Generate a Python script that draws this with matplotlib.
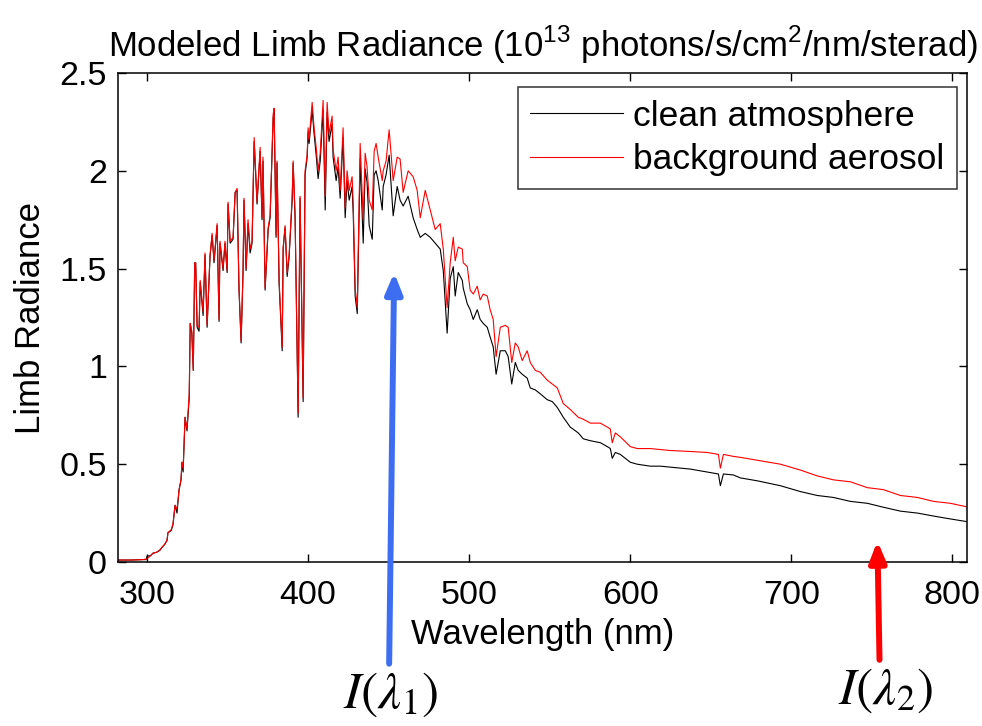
import numpy as np
import matplotlib
matplotlib.use('Agg')
import matplotlib.pyplot as plt
from matplotlib.ticker import FuncFormatter

plt.rcParams['font.family'] = ['Liberation Sans', 'DejaVu Sans']

# wavelength (nm) / radiance (1e13 photons/s/cm2/nm/sterad)
wavelength = [
    282, 290, 297, 299.5, 300, 302, 303.7, 306, 308, 309.3, 311, 312.4, 313, 315, 316.1,
    317.4, 318.6, 319.9, 321.1, 321.7, 322.4, 323.6, 324.8, 326.2, 326.8, 327.8, 328.7,
    329.6, 330.2, 331.1, 332.3, 333.0, 334.8, 336.0, 337.3, 339.1, 340.4, 341.6, 343.5,
    344.7, 345.3, 347.2, 348.4, 349.7, 350.3, 351.6, 353.4, 354.7, 355.9, 357.1, 358.4,
    359.6, 360.2, 361.5, 362.7, 364.0, 365.2, 366.5, 368.3, 370.2, 371.4, 372.0, 373.3,
    375.2, 376.4, 378.3, 378.9, 380.1, 380.7, 382.0, 383.9, 384.5, 385.7, 387.0, 388.2,
    390.1, 390.7, 391.9, 393.8, 395.0, 396.9, 398.1, 399.4, 400.0, 400.6, 402.5, 403.7,
    405.0, 406.2, 407.5, 409.3, 410.6, 411.8, 413.0, 414.9, 415.5, 417.4, 418.6, 419.9,
    421.7, 423.0, 424.2, 425.5, 427.3, 428.0, 429.2, 430.5, 432.3, 434.2, 435.4, 436.6,
    437.9, 439.8, 441.0, 442.2, 443.5, 446.0, 446.6, 448.4, 450.3, 452.8, 455.3, 457.1,
    459.0, 462.1, 465.2, 467.7, 469.6, 472.7, 475.8, 478.9, 482.0, 483.9, 486.3, 488.2,
    490.1, 491.3, 493.2, 495.7, 496.3, 498.8, 500.6, 502.5, 505.0, 506.8, 508.7, 511.2,
    513.0, 514.9, 516.7, 519.3, 522.4, 524.2, 526.4, 528.6, 530.4, 532.9, 536.0, 537.9,
    541.0, 544.1, 548.4, 551.6, 554.7, 558.4, 562.7, 567.7, 570.8, 575.2, 581.4, 585.7,
    587.6, 588.8, 590.7, 593.8, 600.0, 604.3, 612.4, 618.6, 624.8, 637.3, 647.8, 654.7,
    655.9, 657.8, 664.0, 668.3, 678.9, 693.2, 705.6, 716.1, 726.1, 736.6, 747.2, 757.1,
    767.7, 778.3, 788.2, 798.8, 810.0]

clean = [
    0.010, 0.010, 0.012, 0.012, 0.030, 0.032, 0.045, 0.050, 0.060, 0.075, 0.090, 0.110, 0.150, 0.160, 0.190,
    0.290, 0.250, 0.370, 0.420, 0.510, 0.460, 0.740, 0.670, 0.840, 1.220, 1.170, 0.980,
    1.530, 1.530, 1.200, 1.180, 1.430, 1.260, 1.570, 1.200, 1.560, 1.670, 1.530, 1.720,
    1.230, 1.630, 1.490, 1.630, 1.480, 1.830, 1.630, 1.650, 1.890, 1.900, 1.390, 1.120,
    1.480, 1.850, 1.490, 1.730, 1.580, 1.630, 2.150, 1.830, 2.100, 1.750, 2.050, 1.390,
    1.700, 1.760, 2.270, 2.310, 1.660, 2.040, 1.420, 1.080, 1.600, 1.710, 1.460, 1.560,
    1.850, 2.040, 1.760, 0.740, 1.860, 0.820, 1.980, 2.070, 2.200, 2.140, 2.310, 2.190,
    2.080, 1.960, 2.050, 2.310, 1.800, 2.300, 2.150, 2.240, 2.070, 1.950, 2.020, 1.860,
    2.170, 1.760, 1.950, 1.850, 1.920, 1.780, 1.360, 1.270, 2.060, 1.630, 2.010, 1.940,
    1.720, 1.650, 1.980, 2.000, 1.950, 1.800, 1.920, 1.980, 2.080, 1.770, 1.920, 1.850,
    1.820, 1.870, 1.760, 1.700, 1.660, 1.680, 1.660, 1.630, 1.600, 1.490, 1.170, 1.450,
    1.510, 1.360, 1.480, 1.440, 1.400, 1.320, 1.290, 1.240, 1.290, 1.240, 1.220, 1.200,
    1.150, 1.100, 0.960, 1.080, 1.080, 1.050, 0.910, 1.020, 0.980, 0.960, 0.940, 0.890,
    0.880, 0.860, 0.830, 0.820, 0.790, 0.740, 0.690, 0.660, 0.630, 0.620, 0.610, 0.590,
    0.580, 0.530, 0.560, 0.550, 0.510, 0.500, 0.490, 0.490, 0.485, 0.475, 0.460, 0.450,
    0.390, 0.450, 0.445, 0.430, 0.415, 0.390, 0.360, 0.340, 0.330, 0.310, 0.300, 0.280,
    0.260, 0.250, 0.235, 0.220, 0.205]

aerosol = [
    0.010, 0.010, 0.012, 0.015, 0.018, 0.030, 0.045, 0.050, 0.062, 0.075, 0.092, 0.110, 0.150, 0.165, 0.195,
    0.290, 0.270, 0.370, 0.420, 0.510, 0.480, 0.740, 0.680, 0.860, 1.220, 1.180, 0.980,
    1.530, 1.530, 1.210, 1.200, 1.440, 1.280, 1.580, 1.210, 1.570, 1.680, 1.540, 1.730,
    1.240, 1.640, 1.500, 1.640, 1.490, 1.840, 1.640, 1.660, 1.890, 1.910, 1.400, 1.130,
    1.490, 1.860, 1.500, 1.750, 1.600, 1.640, 2.170, 1.840, 2.120, 1.760, 2.070, 1.400,
    1.710, 1.770, 2.290, 2.320, 1.670, 2.050, 1.440, 1.100, 1.610, 1.720, 1.480, 1.570,
    1.870, 2.050, 1.780, 0.760, 1.870, 0.840, 2.000, 2.080, 2.220, 2.160, 2.350, 2.220,
    2.120, 2.000, 2.090, 2.360, 1.870, 2.350, 2.190, 2.280, 2.110, 2.000, 2.070, 1.900,
    2.220, 1.810, 2.000, 1.900, 1.970, 1.830, 1.400, 1.300, 2.140, 1.750, 2.090, 2.020,
    1.850, 1.800, 2.100, 2.140, 2.070, 1.950, 2.000, 2.050, 2.210, 1.950, 2.070, 2.060,
    1.890, 2.000, 1.970, 1.900, 1.760, 1.900, 1.800, 1.700, 1.730, 1.600, 1.300, 1.530,
    1.660, 1.540, 1.610, 1.600, 1.530, 1.510, 1.390, 1.370, 1.410, 1.340, 1.370, 1.360,
    1.290, 1.240, 1.050, 1.200, 1.210, 1.200, 1.020, 1.120, 1.100, 1.030, 1.080, 1.020,
    0.980, 0.970, 0.930, 0.910, 0.890, 0.810, 0.780, 0.740, 0.730, 0.710, 0.710, 0.690,
    0.680, 0.610, 0.660, 0.640, 0.590, 0.580, 0.580, 0.575, 0.570, 0.565, 0.560, 0.550,
    0.480, 0.550, 0.540, 0.535, 0.520, 0.500, 0.470, 0.440, 0.420, 0.410, 0.380, 0.370,
    0.340, 0.330, 0.310, 0.300, 0.280]

xticks = [300, 400, 500, 600, 700, 800]
yticks = [0, 0.5, 1, 1.5, 2, 2.5]

# arrows: (tip wavelength, tip radiance, tail wavelength, tail radiance)
arrow_blue = (453.4, 1.48, 450.3, -0.52)
arrow_red = (753.4, 0.107, 754.7, -0.50)

fig = plt.figure(figsize=(9.82, 7.26), dpi=100)
ax = fig.add_axes([0.1202, 0.2259, 0.8645, 0.6735])

ax.plot(wavelength, clean, color='black', lw=0.8, label='clean atmosphere')
ax.plot(wavelength, aerosol, color='red', lw=0.8, label='background aerosol')

ax.set_xlim(282, 809)
ax.set_ylim(0, 2.5)
ax.set_xticks(xticks)
ax.set_yticks(yticks)
ax.yaxis.set_major_formatter(FuncFormatter(lambda v, p: '%g' % v))
ax.tick_params(direction='in', top=True, right=True, length=6, width=1, labelsize=24.5)
ax.tick_params(axis='x', pad=13)
ax.tick_params(axis='y', pad=8)
for s in ax.spines.values():
    s.set_linewidth(1.1)

ax.set_xlabel('Wavelength (nm)', fontsize=25, labelpad=5)
ax.set_ylabel('Limb Radiance', fontsize=25, labelpad=9)
ax.set_title(r'Modeled Limb Radiance (10$^{\mathregular{13}}$ photons/s/cm$^{\mathregular{2}}$/nm/sterad)',
             fontsize=25, pad=12)

leg = ax.legend(loc='upper right', bbox_to_anchor=(0.988, 0.971), borderaxespad=0,
                fontsize=25.5, frameon=True, fancybox=False, edgecolor='black',
                handlelength=2.6, handletextpad=0.3, borderpad=0.35, labelspacing=0.3)
leg.get_frame().set_linewidth(1.1)

for (tx, ty, bx, by), col in [(arrow_blue, '#3d6ef2'), (arrow_red, '#ff0000')]:
    ax.annotate('', xy=(tx, ty), xytext=(bx, by), annotation_clip=False,
                arrowprops=dict(arrowstyle='-|>,head_length=1.1,head_width=0.45',
                                mutation_scale=11, lw=4.3, color=col,
                                shrinkA=0, shrinkB=0))

ax.text(450.9, -0.68, r'$\mathit{I}\mathrm{(}\lambda_{\mathrm{1}}\mathrm{)}$', math_fontfamily='stix',
        fontsize=37, ha='center', va='center', clip_on=False)
ax.text(758.5, -0.655, r'$\mathit{I}\mathrm{(}\lambda_{\mathrm{2}}\mathrm{)}$', math_fontfamily='stix',
        fontsize=37, ha='center', va='center', clip_on=False)

fig.savefig('out.png', dpi=100)
